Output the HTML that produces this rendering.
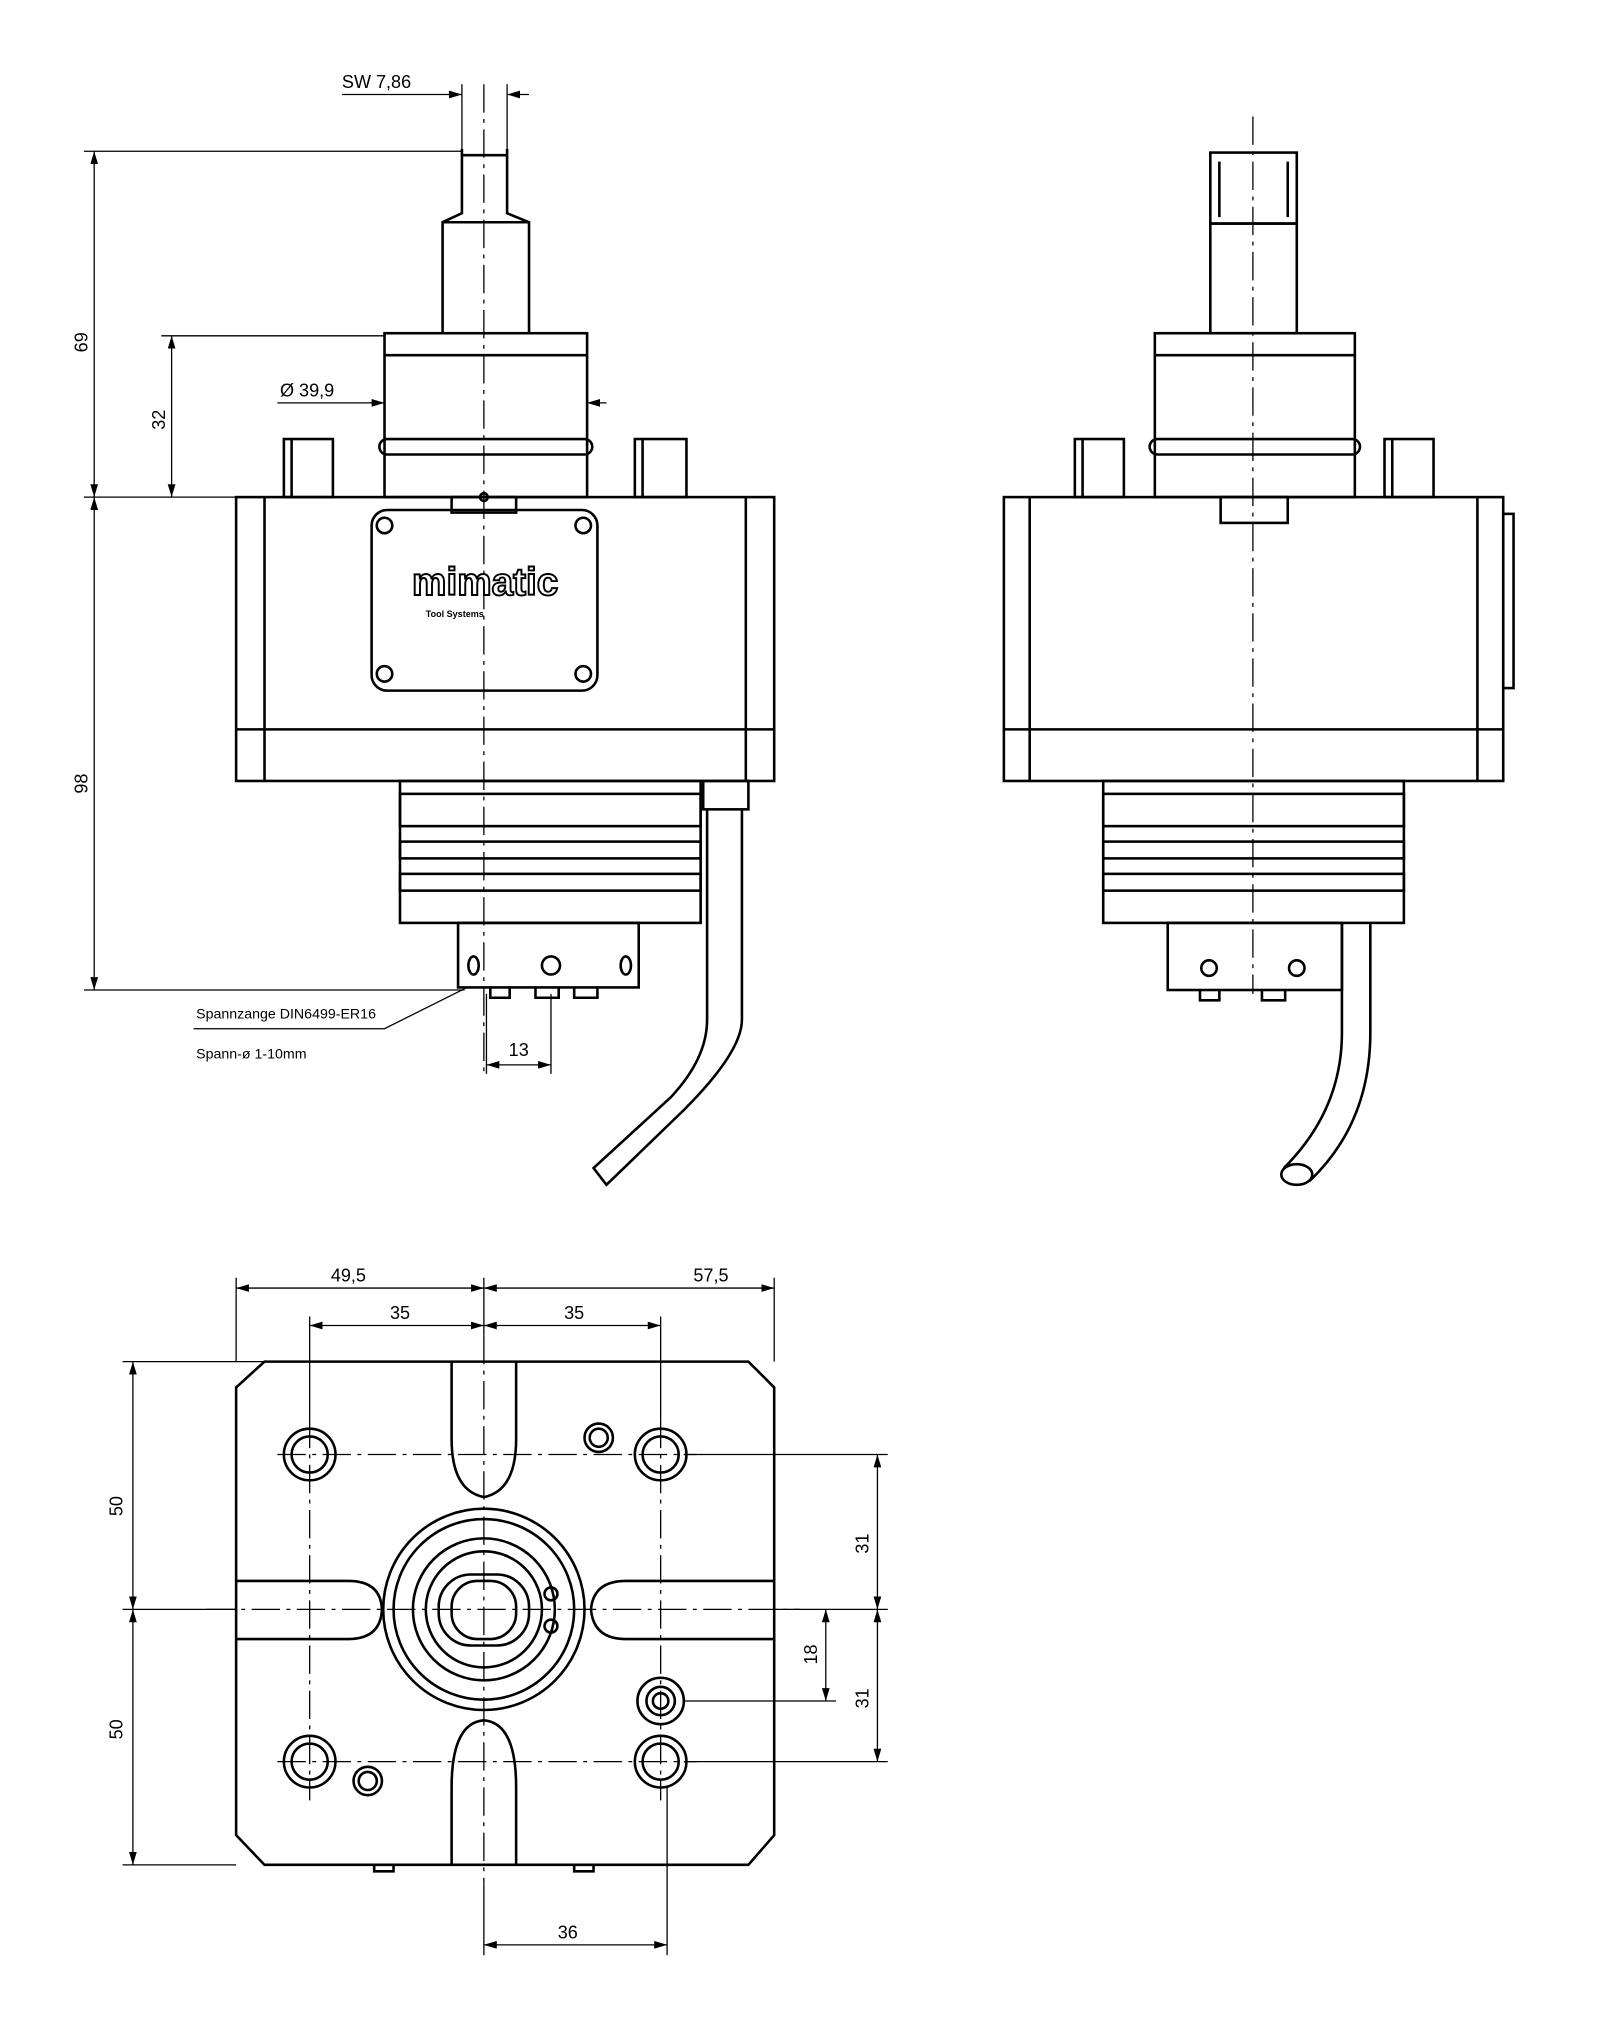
<!DOCTYPE html>
<html><head><meta charset="utf-8"><style>
html,body{margin:0;padding:0;background:#fff}
svg{display:block}
text{font-family:"Liberation Sans",sans-serif;fill:#000}
</style></head><body>
<svg width="1600" height="2020" viewBox="0 0 1240 1565" xmlns="http://www.w3.org/2000/svg">
<defs>
<marker id="a" markerWidth="10" markerHeight="6" refX="10" refY="3" orient="auto-start-reverse"><path d="M0,0 L10,3 L0,6 z" fill="#000"/></marker>
</defs>
<g fill="none" stroke="#000" stroke-width="2">
<!-- FRONT VIEW -->
<path d="M358,115 L358,165 L343,172 L343,258 M393,115 L393,165 L410,172 L410,258 M358,120 L393,120 M343,172 L410,172"/>
<rect x="298" y="258" width="157" height="127"/>
<line x1="298" y1="275" x2="455" y2="275"/>
<rect x="294" y="340" width="165" height="12" rx="6"/>
<rect x="220" y="340" width="38" height="45"/><line x1="226" y1="340" x2="226" y2="385"/>
<rect x="492" y="340" width="40" height="45"/><line x1="498" y1="340" x2="498" y2="385"/>
<rect x="183" y="385" width="417" height="220"/>
<line x1="205" y1="385" x2="205" y2="605"/><line x1="578" y1="385" x2="578" y2="605"/>
<line x1="183" y1="565" x2="600" y2="565"/>
<rect x="350" y="385" width="50" height="12"/>
<rect x="288" y="395" width="175" height="140" rx="12"/>
<circle cx="298" cy="407" r="6"/><circle cx="452" cy="407" r="6"/><circle cx="298" cy="522" r="6"/><circle cx="452" cy="522" r="6"/>
<rect x="310" y="605" width="233" height="110"/>
<rect x="310" y="615" width="233" height="25"/><rect x="310" y="652" width="233" height="13"/><rect x="310" y="677" width="233" height="13"/>
<rect x="355" y="715" width="140" height="50"/>
<ellipse cx="367" cy="748" rx="4" ry="7"/><circle cx="427" cy="748" r="7"/><ellipse cx="485" cy="748" rx="4" ry="7"/>
<path d="M380,765 v8 h15 v-8 M415,765 v8 h18 v-8 M445,765 v8 h18 v-8"/>
<rect x="545" y="605" width="35" height="22"/>
<path d="M548,627 L548,790 Q548,820 520,850 L460,905 L470,918 L530,860 Q575,815 575,790 L575,627"/>
<!-- front dims -->
<g stroke-width="1">
<line x1="65" y1="117" x2="358" y2="117"/>
<line x1="73" y1="117" x2="73" y2="385" marker-start="url(#a)" marker-end="url(#a)"/>
<line x1="125" y1="260" x2="298" y2="260"/>
<line x1="133" y1="260" x2="133" y2="385" marker-start="url(#a)" marker-end="url(#a)"/>
<line x1="65" y1="385" x2="183" y2="385"/>
<line x1="73" y1="385" x2="73" y2="767" marker-start="url(#a)" marker-end="url(#a)"/>
<line x1="65" y1="767" x2="360" y2="767"/>
<line x1="265" y1="73" x2="358" y2="73" marker-end="url(#a)"/>
<line x1="410" y1="73" x2="393" y2="73" marker-end="url(#a)"/>
<line x1="358" y1="65" x2="358" y2="115"/><line x1="393" y1="65" x2="393" y2="115"/>
<line x1="215" y1="312" x2="298" y2="312" marker-end="url(#a)"/>
<line x1="470" y1="312" x2="455" y2="312" marker-end="url(#a)"/>
<line x1="377" y1="825" x2="427" y2="825" marker-start="url(#a)" marker-end="url(#a)"/>
<line x1="377" y1="770" x2="377" y2="832"/><line x1="427" y1="770" x2="427" y2="832"/>
<path d="M150,797 L298,797 L362,765"/>
<line x1="375" y1="65" x2="375" y2="832" stroke-dasharray="22,5,3,5"/>
</g>
<circle cx="375" cy="385" r="3"/>

<!-- SIDE VIEW -->
<rect x="938" y="118" width="67" height="55"/>
<line x1="945" y1="125" x2="945" y2="168"/><line x1="998" y1="125" x2="998" y2="168"/>
<rect x="938" y="173" width="67" height="85"/>
<rect x="895" y="258" width="155" height="127"/>
<line x1="895" y1="275" x2="1050" y2="275"/>
<rect x="891" y="340" width="163" height="12" rx="6"/>
<rect x="833" y="340" width="38" height="45"/><line x1="839" y1="340" x2="839" y2="385"/>
<rect x="1073" y="340" width="38" height="45"/><line x1="1079" y1="340" x2="1079" y2="385"/>
<rect x="778" y="385" width="387" height="220"/>
<line x1="798" y1="385" x2="798" y2="605"/><line x1="1145" y1="385" x2="1145" y2="605"/>
<line x1="778" y1="565" x2="1165" y2="565"/>
<rect x="1165" y="398" width="8" height="135"/>
<rect x="946" y="385" width="52" height="20"/>
<rect x="855" y="605" width="233" height="110"/>
<rect x="855" y="615" width="233" height="25"/><rect x="855" y="652" width="233" height="13"/><rect x="855" y="677" width="233" height="13"/>
<rect x="905" y="715" width="135" height="52"/>
<circle cx="937" cy="750" r="6"/><circle cx="1005" cy="750" r="6"/>
<path d="M930,767 v8 h15 v-8 M978,767 v8 h18 v-8"/>
<path d="M1040,715 L1040,800 Q1040,860 995,905 M1062,715 L1062,800 Q1062,870 1015,915"/>
<ellipse cx="1005" cy="910" rx="12" ry="8"/>
<line x1="971" y1="90" x2="971" y2="770" stroke-width="1" stroke-dasharray="22,5,3,5"/>

<!-- BOTTOM VIEW -->
<path d="M205,1055 L580,1055 L600,1075 L600,1422 L580,1445 L205,1445 L183,1422 L183,1075 Z"/>
<path d="M350,1055 L350,1115 Q350,1155 375,1160 Q400,1155 400,1115 L400,1055"/>
<path d="M350,1445 L350,1385 Q350,1335 375,1333 Q400,1335 400,1385 L400,1445"/>
<path d="M183,1225 L270,1225 Q295,1225 296,1247 Q295,1270 270,1270 L183,1270"/>
<path d="M600,1225 L485,1225 Q460,1225 458,1247 Q460,1270 485,1270 L600,1270"/>
<circle cx="375" cy="1247" r="78"/><circle cx="375" cy="1247" r="70"/>
<circle cx="375" cy="1247" r="55"/><circle cx="375" cy="1247" r="45"/>
<rect x="340" y="1220" width="70" height="55" rx="25"/>
<rect x="350" y="1225" width="50" height="45" rx="20"/>
<circle cx="427" cy="1235" r="5"/><circle cx="427" cy="1260" r="5"/>
<circle cx="240" cy="1127" r="20"/><circle cx="240" cy="1127" r="14"/>
<circle cx="512" cy="1127" r="20"/><circle cx="512" cy="1127" r="14"/>
<circle cx="240" cy="1365" r="20"/><circle cx="240" cy="1365" r="14"/>
<circle cx="512" cy="1365" r="20"/><circle cx="512" cy="1365" r="14"/>
<circle cx="464" cy="1114" r="11"/><circle cx="464" cy="1114" r="7"/>
<circle cx="285" cy="1380" r="11"/><circle cx="285" cy="1380" r="7"/>
<circle cx="512" cy="1318" r="18"/><circle cx="512" cy="1318" r="11"/><circle cx="512" cy="1318" r="6"/>
<path d="M290,1445 v5 h15 v-5 M445,1445 v5 h15 v-5"/>
<g stroke-width="1" stroke-dasharray="22,5,3,5">
<line x1="215" y1="1127" x2="540" y2="1127"/><line x1="215" y1="1365" x2="540" y2="1365"/>
<line x1="240" y1="1100" x2="240" y2="1395"/><line x1="512" y1="1100" x2="512" y2="1395"/>
<line x1="375" y1="1035" x2="375" y2="1460"/><line x1="160" y1="1247" x2="620" y2="1247"/>
</g>
<g stroke-width="1">
<line x1="183" y1="990" x2="183" y2="1055"/><line x1="600" y1="990" x2="600" y2="1055"/>
<line x1="375" y1="990" x2="375" y2="1035"/>
<line x1="183" y1="998" x2="375" y2="998" marker-start="url(#a)" marker-end="url(#a)"/>
<line x1="375" y1="998" x2="600" y2="998" marker-start="url(#a)" marker-end="url(#a)"/>
<line x1="240" y1="1020" x2="240" y2="1100"/><line x1="512" y1="1020" x2="512" y2="1100"/>
<line x1="240" y1="1027" x2="375" y2="1027" marker-start="url(#a)" marker-end="url(#a)"/>
<line x1="375" y1="1027" x2="512" y2="1027" marker-start="url(#a)" marker-end="url(#a)"/>
<line x1="95" y1="1055" x2="205" y2="1055"/><line x1="95" y1="1247" x2="183" y2="1247"/><line x1="95" y1="1445" x2="183" y2="1445"/>
<line x1="103" y1="1055" x2="103" y2="1247" marker-start="url(#a)" marker-end="url(#a)"/>
<line x1="103" y1="1247" x2="103" y2="1445" marker-start="url(#a)" marker-end="url(#a)"/>
<line x1="530" y1="1127" x2="688" y2="1127"/><line x1="600" y1="1247" x2="688" y2="1247"/><line x1="530" y1="1365" x2="688" y2="1365"/>
<line x1="680" y1="1127" x2="680" y2="1247" marker-start="url(#a)" marker-end="url(#a)"/>
<line x1="680" y1="1247" x2="680" y2="1365" marker-start="url(#a)" marker-end="url(#a)"/>
<line x1="530" y1="1318" x2="648" y2="1318"/>
<line x1="640" y1="1247" x2="640" y2="1318" marker-start="url(#a)" marker-end="url(#a)"/>
<line x1="375" y1="1460" x2="375" y2="1515"/><line x1="517" y1="1385" x2="517" y2="1515"/>
<line x1="375" y1="1507" x2="517" y2="1507" marker-start="url(#a)" marker-end="url(#a)"/>
</g>
</g>
<g font-size="14">
<text x="265" y="68">SW 7,86</text>
<text x="217" y="307">Ø  39,9</text>
<text x="68" y="265" transform="rotate(-90 68 265)" text-anchor="middle">69</text>
<text x="128" y="325" transform="rotate(-90 128 325)" text-anchor="middle">32</text>
<text x="68" y="607" transform="rotate(-90 68 607)" text-anchor="middle">98</text>
<text x="402" y="818" text-anchor="middle">13</text>
<text x="152" y="789" font-size="11">Spannzange DIN6499-ER16</text>
<text x="152" y="820" font-size="11">Spann-ø 1-10mm</text>
<text x="270" y="993" text-anchor="middle">49,5</text>
<text x="551" y="993" text-anchor="middle">57,5</text>
<text x="310" y="1022" text-anchor="middle">35</text>
<text x="445" y="1022" text-anchor="middle">35</text>
<text x="95" y="1167" transform="rotate(-90 95 1167)" text-anchor="middle">50</text>
<text x="95" y="1340" transform="rotate(-90 95 1340)" text-anchor="middle">50</text>
<text x="673" y="1196" transform="rotate(-90 673 1196)" text-anchor="middle">31</text>
<text x="673" y="1316" transform="rotate(-90 673 1316)" text-anchor="middle">31</text>
<text x="633" y="1282" transform="rotate(-90 633 1282)" text-anchor="middle">18</text>
<text x="440" y="1502" text-anchor="middle">36</text>
</g>
<text x="376" y="461" font-size="30" font-weight="bold" text-anchor="middle" stroke="#000" stroke-width="1.5" style="fill:#fff">mimatic</text>
<text x="330" y="478" font-size="7" font-weight="bold">Tool Systems</text>
</svg>
</body></html>
